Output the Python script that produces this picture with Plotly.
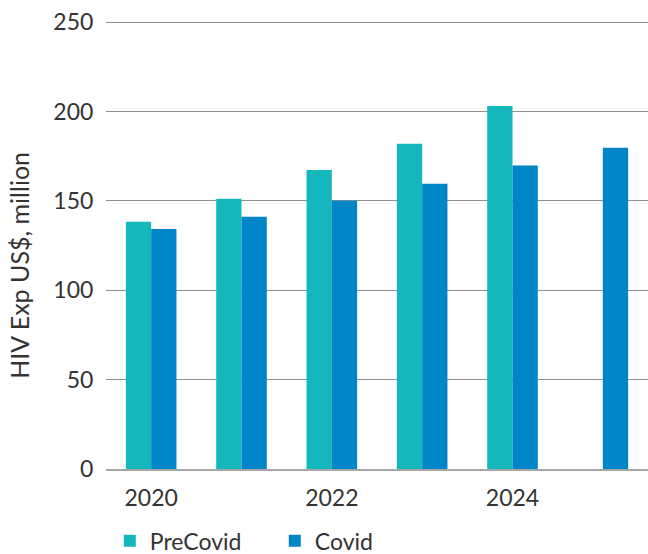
import plotly.graph_objects as go

years = [2020, 2021, 2022, 2023, 2024, 2025]
pre_covid = [138.3, 151.2, 167.2, 182.0, 203.0, None]
covid = [134.2, 141.1, 150.1, 159.6, 169.8, 179.7]
y_ticks = [0, 50, 100, 150, 200, 250]
x_ticks = [2020, 2022, 2024]
y_title = "HIV Exp US$, million"

FONT = "Lato"
TXT = "#333333"
W = 400

fig = go.Figure()
fig.add_trace(go.Bar(x=years, y=pre_covid, name="PreCovid",
                     marker=dict(color="#14B7BC", line=dict(width=0))))
fig.add_trace(go.Bar(x=years, y=covid, name="Covid",
                     marker=dict(color="#0085C8", line=dict(width=0))))

fig.add_annotation(text=y_title, xref="paper", yref="paper", x=-0.162, y=0.454,
                   xanchor="center", yanchor="middle", textangle=-90, showarrow=False,
                   font=dict(family=FONT, size=25, color=TXT, weight=W))

fig.update_layout(
    width=648, height=554,
    margin=dict(l=106, r=0, t=21, b=85, autoexpand=False),
    paper_bgcolor="white", plot_bgcolor="white",
    barmode="group", bargap=0.44, bargroupgap=0,
    font=dict(family=FONT, size=23, color=TXT, weight=W),
    showlegend=True,
    legend=dict(orientation="h", x=0.007, xanchor="left", y=-0.160, yanchor="middle",
                font=dict(family=FONT, size=23, color=TXT, weight=W), entrywidth=120,
                traceorder="normal", tracegroupgap=0),
    xaxis=dict(range=[2019.5, 2025.5], tickvals=x_ticks, ticktext=[str(v) for v in x_ticks],
               automargin=False,
               showgrid=False, zeroline=False, showline=True, linecolor="#a6a6a6", linewidth=2,
               ticks="outside", ticklen=7, tickcolor="rgba(0,0,0,0)",
               tickfont=dict(family=FONT, size=23, color=TXT, weight=W)),
    yaxis=dict(range=[0, 250.6], tickvals=y_ticks, showgrid=True, gridcolor="#8f8f8f", gridwidth=1,
               automargin=False,
               zeroline=False, showline=False,
               ticks="outside", ticklen=7, tickcolor="rgba(0,0,0,0)",
               tickfont=dict(family=FONT, size=23, color=TXT, weight=W)),
)

fig.write_html("out.html", post_script="document.body.style.margin='0';",
               config={"displayModeBar": False})
